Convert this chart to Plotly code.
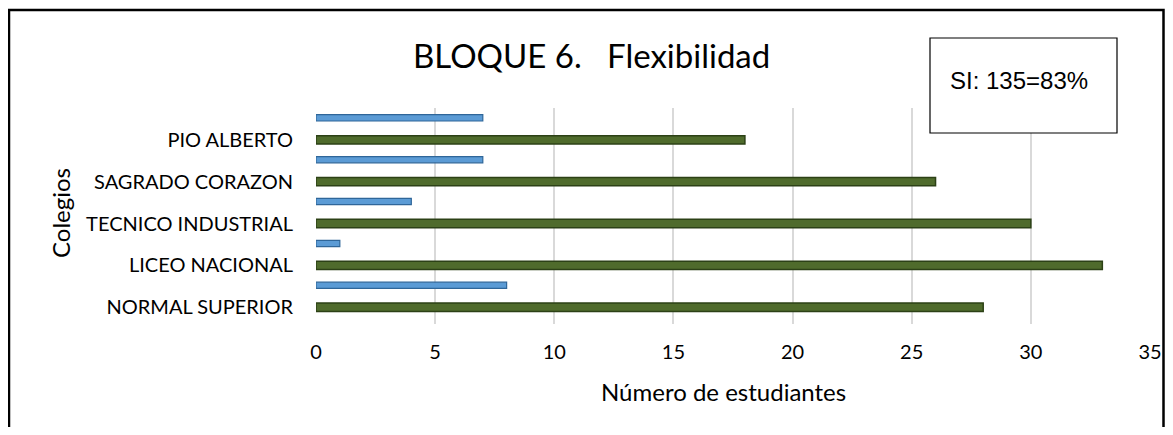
import plotly.graph_objects as go

colegios = ['NORMAL SUPERIOR', 'LICEO NACIONAL', 'TECNICO INDUSTRIAL', 'SAGRADO CORAZON', 'PIO ALBERTO']
si_vals = [28, 33, 30, 26, 18]
no_vals = [8, 1, 4, 7, 7]
x_ticks = [0, 5, 10, 15, 20, 25, 30, 35]

# page body has an 8px margin, so the figure is a bit smaller than the window
W, H = 1157, 419
L, R, T, B = 308, 15, 100, 103
pw, ph = W - L - R, H - T - B


def px(x):
    # reference pixel -> paper coordinate
    return (x - 8 - L) / pw


def py(y):
    return (H - B - (y - 8)) / ph


fig = go.Figure()
fig.add_trace(go.Bar(
    y=colegios, x=si_vals, orientation='h', name='SI',
    width=0.2, offset=-0.1,
    marker=dict(color='#4f6b2c', line=dict(color='#2c4116', width=1.5))
))
fig.add_trace(go.Bar(
    y=colegios, x=no_vals, orientation='h', name='NO',
    width=0.15, offset=0.45,
    marker=dict(color='#5b9bd5', line=dict(color='#2f6699', width=1.2))
))

font = "Lato, 'Open Sans', sans-serif"

# outer frame and SI box
fig.add_shape(type='rect', xref='paper', yref='paper',
              x0=px(9), x1=px(1163.5), y0=py(450), y1=py(10),
              line=dict(color='black', width=2.5), layer='above')
fig.add_shape(type='rect', xref='paper', yref='paper',
              x0=px(930), x1=px(1117), y0=py(133), y1=py(38),
              line=dict(color='black', width=1.2), fillcolor='white', layer='above')

fig.add_annotation(x=px(1019), y=py(80), xref='paper', yref='paper',
                   xanchor='center', yanchor='middle',
                   text='SI: 135=83%', showarrow=False,
                   font=dict(family='Liberation Sans, Arial', size=24, color='black'))
fig.add_annotation(x=px(591), y=py(55), xref='paper', yref='paper',
                   xanchor='center', yanchor='middle',
                   text='BLOQUE 6.   Flexibilidad', showarrow=False,
                   font=dict(family=font, size=33, color='black'))
fig.add_annotation(x=px(723), y=py(391), xref='paper', yref='paper',
                   xanchor='center', yanchor='middle',
                   text='Número de estudiantes', showarrow=False,
                   font=dict(family=font, size=24, color='black'))
fig.add_annotation(x=px(60), y=py(213), xref='paper', yref='paper',
                   xanchor='center', yanchor='middle',
                   text='Colegios', showarrow=False, textangle=-90,
                   font=dict(family=font, size=24, color='black'))

fig.update_layout(
    width=W, height=H,
    margin=dict(l=L, r=R, t=T, b=B, autoexpand=False),
    barmode='overlay',
    plot_bgcolor='white', paper_bgcolor='white',
    showlegend=False,
    font=dict(family=font, size=20, color='black'),
    xaxis=dict(range=[0, 35], tickvals=x_ticks, showgrid=True, gridcolor='#d9d9d9',
               gridwidth=1.5, zeroline=False, showline=False, ticks='',
               ticklabelstandoff=14, ticklabeloverflow='allow'),
    yaxis=dict(range=[-0.4, 4.76], showgrid=False, zeroline=False, showline=False,
               ticks='', ticklabelstandoff=22),
)

fig.write_html("out.html")
